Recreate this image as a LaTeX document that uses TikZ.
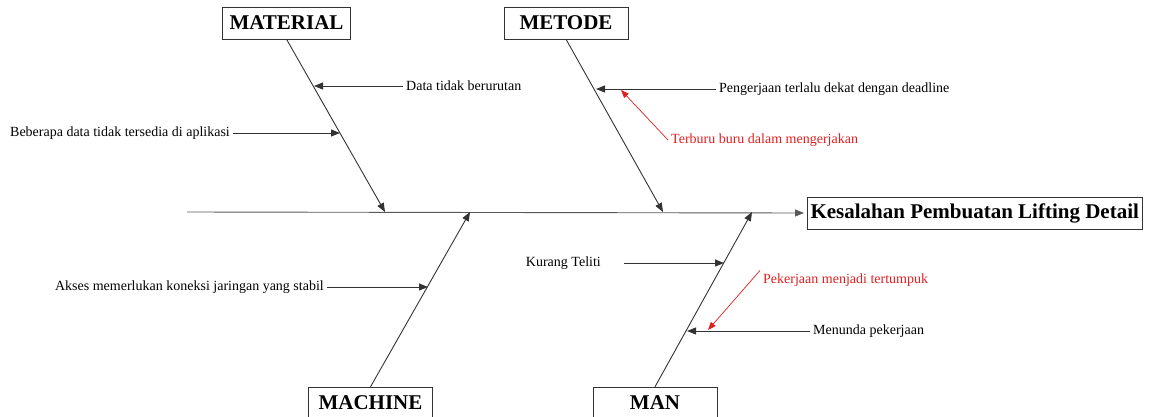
\documentclass[tikz,border=0pt]{standalone}
\usepackage{fontspec}
\setmainfont{Liberation Serif}
\usepackage{tikz}
\usetikzlibrary{calc,positioning,arrows.meta}
\definecolor{redcause}{RGB}{225,30,30}
\tikzstyle{category} = [rectangle, draw=black!80, minimum width=124pt, minimum height=32pt,
                        inner xsep=7pt, font=\fontsize{21}{24}\selectfont\bfseries]
\tikzstyle{effect}   = [rectangle, draw=black!80, minimum width=335pt, minimum height=32pt,
                        font=\fontsize{21}{24}\selectfont\bfseries]
\tikzstyle{bone}     = [draw=black!65, line width=0.9pt, -{Triangle[length=9pt,width=7pt]}]
\tikzstyle{arrow}    = [draw=black!80, line width=0.9pt, -{Triangle[length=9pt,width=7pt]}]

\begin{document}
\begin{tikzpicture}[x=1pt, y=-1pt,
			cause/.style={font=\fontsize{14}{16}\selectfont, inner sep=3pt},
			subcause/.style={cause, text=redcause},
			redarrow/.style={draw=redcause, line width=0.7pt, -{Triangle[length=8pt,width=6pt]}},
		]
		\useasboundingbox (0,0) rectangle (1152,416);

		\node[category] (material) at (286.5,23) {MATERIAL};
		\node[category] (metode)   at (566,23)   {METODE};
		\node[category] (machine)  at (370.5,403) {MACHINE};
		\node[category] (man)      at (655,403)  {MAN};
		\node[effect, anchor=west] (effect) at (807,213) {Kesalahan Pembuatan Lifting Detail};

		\coordinate (spine)  at (187,212);
		\coordinate (matTip) at (385,212);
		\coordinate (metTip) at (663,212);
		\coordinate (macTip) at (470,212);
		\coordinate (manTip) at (752,212);

		\draw[bone, shorten >=3pt] (spine) -- (effect.west);
		\draw[arrow] (material.south) -- (matTip);
		\draw[arrow] (metode.south) -- (metTip);
		\draw[arrow] (machine.north) -- (macTip);
		\draw[arrow] (man.north) -- (manTip);

		\coordinate (c1) at (314,86);
		\coordinate (c2) at (340,133);
		\coordinate (c3) at (596,89);
		\coordinate (c4) at (621,90);
		\coordinate (c5) at (428,287);
		\coordinate (c6) at (724,263);
		\coordinate (c7) at (708,330);
		\coordinate (c8) at (687,331);

		\node[cause, anchor=west]    (dataUrut) at (403,86)  {Data tidak berurutan};
		\node[cause, anchor=east]    (dataApk)  at (233,133) {Beberapa data tidak tersedia di aplikasi};
		\node[cause, anchor=west]    (deadline) at (716,89)  {Pengerjaan terlalu dekat dengan deadline};
		\node[subcause, anchor=west] (terburu)  at (668,140) {Terburu buru dalam mengerjakan};
		\node[cause, anchor=east]    (akses)    at (327,287) {Akses memerlukan koneksi jaringan yang stabil};
		\node[cause, anchor=east]    (teliti)   at (604,263) {Kurang Teliti};
		\node[subcause, anchor=west] (tumpuk)   at (760,280) {Pekerjaan menjadi tertumpuk};
		\node[cause, anchor=west]    (menunda)  at (810,331) {Menunda pekerjaan};

		\draw[arrow] (dataUrut.west) -- (c1);
		\draw[arrow] (dataApk.east) -- (c2);
		\draw[arrow] (deadline.west) -- (c3);
		\draw[redarrow] (terburu.west) -- (c4);
		\draw[arrow] (akses.east) -- (c5);
		\draw[arrow] ([xshift=20pt]teliti.east) -- (c6);
		\draw[redarrow] (tumpuk.north west) -- (c7);
		\draw[arrow] (menunda.west) -- (c8);
	\end{tikzpicture}
\end{document}
